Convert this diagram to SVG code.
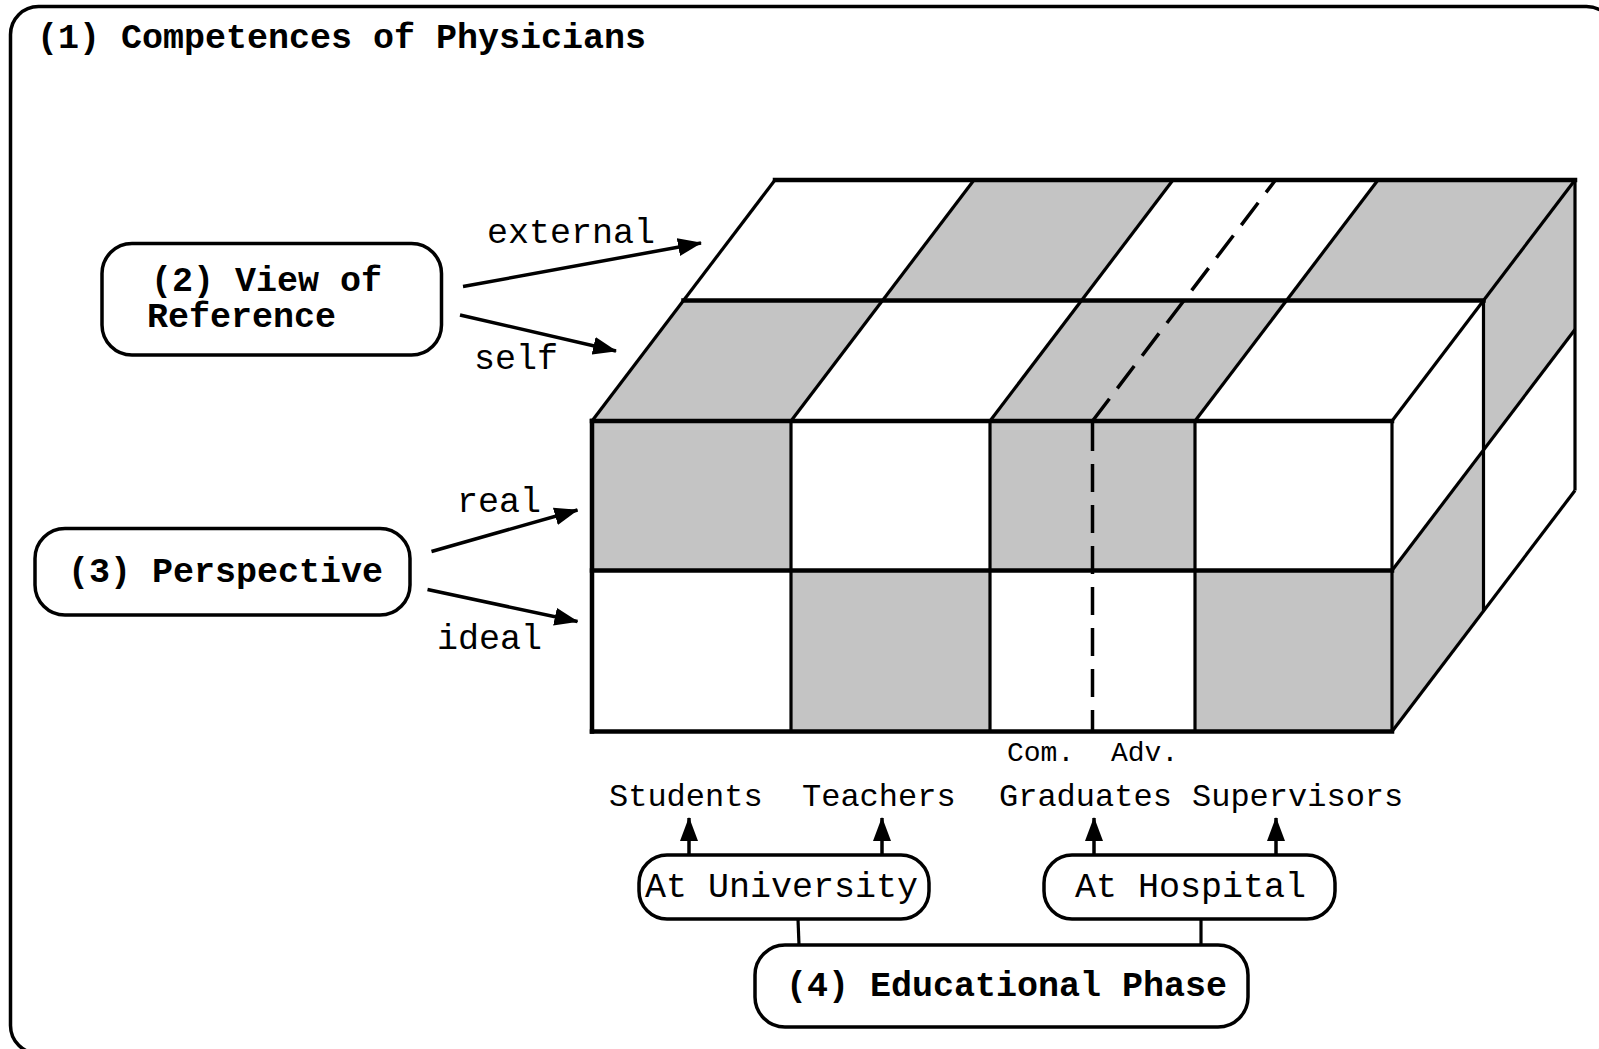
<svg xmlns="http://www.w3.org/2000/svg" width="1599" height="1049" viewBox="0 0 1599 1049">
<style>
.bold{font-family:"Liberation Mono","Courier New",monospace;font-weight:bold;font-size:35px;fill:#000}
.lbl{font-family:"Liberation Mono","Courier New",monospace;font-size:35px;fill:#000}
.sm{font-family:"Liberation Mono","Courier New",monospace;font-size:32px;fill:#000}
.xs{font-family:"Liberation Mono","Courier New",monospace;font-size:28px;fill:#000}
.box{fill:#fff;stroke:#000;stroke-width:3.5}
.g{fill:#c4c4c4;stroke:none}
.thick{stroke:#000;stroke-width:4.5;fill:none;stroke-linecap:square}
.thin{stroke:#000;stroke-width:3.2;fill:none}
.dash{stroke:#000;stroke-width:3.5;fill:none;stroke-dasharray:28 13}
.arr{stroke:#000;stroke-width:3.5;fill:none;marker-end:url(#ah)}
</style>
<defs>
<marker id="ah" viewBox="0 0 24 18" refX="23" refY="9" markerWidth="24" markerHeight="18" markerUnits="userSpaceOnUse" orient="auto">
<path d="M0,0 L24,9 L0,18 z" fill="#000"/>
</marker>
</defs>
<rect width="1599" height="1049" fill="#fff"/>
<g id="frame">
<rect x="10.5" y="6.5" width="1604" height="1047" rx="28" ry="28" fill="none" stroke="#000" stroke-width="3.5"/>
<text class="bold" x="37" y="48">(1) Competences of Physicians</text>
</g>
<g id="cube">
<polygon class="g" points="592,421 791,421 882.5,300.5 683.5,300.5"/>
<polygon class="g" points="990,421 1195,421 1286.5,300.5 1081.5,300.5"/>
<polygon class="g" points="882.5,300.5 1081.5,300.5 1173,180 974,180"/>
<polygon class="g" points="1286.5,300.5 1483.5,300.5 1575,180 1378,180"/>
<rect class="g" x="592" y="421" width="199" height="149.5"/>
<rect class="g" x="990" y="421" width="205" height="149.5"/>
<rect class="g" x="791" y="570.5" width="199" height="161"/>
<rect class="g" x="1195" y="570.5" width="197" height="161"/>
<polygon class="g" points="1392,570.5 1483.5,450 1483.5,611 1392,731.5"/>
<polygon class="g" points="1483.5,300.5 1575,180 1575,329.5 1483.5,450"/>
<line class="thin" x1="592" y1="421" x2="775" y2="180"/>
<line class="thin" x1="791" y1="421" x2="974" y2="180"/>
<line class="thin" x1="990" y1="421" x2="1173" y2="180"/>
<line class="thin" x1="1195" y1="421" x2="1378" y2="180"/>
<line class="thin" x1="1392" y1="421" x2="1575" y2="180"/>
<line class="thin" x1="791" y1="421" x2="791" y2="731.5"/>
<line class="thin" x1="990" y1="421" x2="990" y2="731.5"/>
<line class="thin" x1="1195" y1="421" x2="1195" y2="731.5"/>
<line class="thin" x1="1392" y1="421" x2="1392" y2="731.5"/>
<line class="thin" x1="1483.5" y1="300.5" x2="1483.5" y2="611"/>
<line class="thin" x1="1575" y1="180" x2="1575" y2="490.5"/>
<line class="thin" x1="1392" y1="570.5" x2="1575" y2="329.5"/>
<line class="thin" x1="1392" y1="731.5" x2="1575" y2="490.5"/>
<line class="thick" x1="592" y1="421" x2="592" y2="731.5"/>
<line class="thick" x1="775" y1="180" x2="1575" y2="180"/>
<line class="thick" x1="683.5" y1="300.5" x2="1483.5" y2="300.5"/>
<line class="thick" x1="592" y1="421" x2="1392" y2="421"/>
<line class="thick" x1="592" y1="570.5" x2="1392" y2="570.5"/>
<line class="thick" x1="592" y1="731.5" x2="1392" y2="731.5"/>
<line class="dash" x1="1092.5" y1="423" x2="1092.5" y2="731.5"/>
<line class="dash" x1="1092.5" y1="421" x2="1275.5" y2="180"/>
</g>
<g id="n2">
<rect class="box" x="102" y="243.5" width="339.5" height="111.5" rx="30" ry="30"/>
<text class="bold" x="151" y="291">(2) View of</text>
<text class="bold" x="147" y="327">Reference</text>
</g>
<g id="n3">
<rect class="box" x="35" y="528.5" width="375" height="86.5" rx="30" ry="30"/>
<text class="bold" x="68" y="582">(3) Perspective</text>
</g>
<g id="n4">
<rect class="box" x="755" y="945" width="493" height="82" rx="30" ry="30"/>
<text class="bold" x="786" y="996">(4) Educational Phase</text>
</g>
<g id="nUni">
<rect class="box" x="639" y="855" width="290" height="64" rx="28" ry="28"/>
<text class="lbl" x="645" y="897">At University</text>
</g>
<g id="nHosp">
<rect class="box" x="1044" y="855" width="291" height="64" rx="28" ry="28"/>
<text class="lbl" x="1075" y="897">At Hospital</text>
</g>
<g id="labels">
<text class="lbl" x="487" y="243">external</text>
<text class="lbl" x="474" y="369">self</text>
<text class="lbl" x="457" y="512">real</text>
<text class="lbl" x="437" y="649">ideal</text>
<text class="xs" x="1007" y="761">Com.</text>
<text class="xs" x="1111" y="761">Adv.</text>
<text class="sm" x="609" y="806">Students</text>
<text class="sm" x="802" y="806">Teachers</text>
<text class="sm" x="999" y="806">Graduates</text>
<text class="sm" x="1192" y="806">Supervisors</text>
</g>
<g id="connectors">
<line class="arr" x1="463" y1="286.5" x2="701" y2="243"/>
<line class="arr" x1="460" y1="315" x2="616" y2="351"/>
<line class="arr" x1="431.5" y1="551.5" x2="577.5" y2="510"/>
<line class="arr" x1="427.5" y1="589.5" x2="577.5" y2="621.5"/>
<line class="arr" x1="689" y1="855" x2="689" y2="818"/>
<line class="arr" x1="882" y1="855" x2="882" y2="818"/>
<line class="arr" x1="1094" y1="855" x2="1094" y2="818"/>
<line class="arr" x1="1276" y1="855" x2="1276" y2="818"/>
<line class="thin" x1="798" y1="919" x2="799" y2="945"/>
<line class="thin" x1="1201" y1="919" x2="1201" y2="945"/>
</g>
</svg>
